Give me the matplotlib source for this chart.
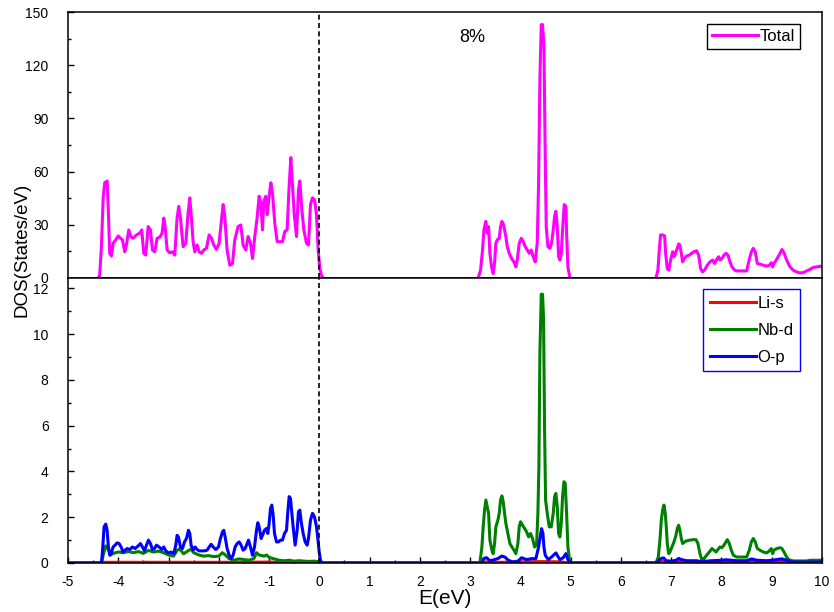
import numpy as np
import matplotlib
matplotlib.use("Agg")
import matplotlib.pyplot as plt
from matplotlib.ticker import MultipleLocator

plt.rcParams['font.family'] = ['Liberation Sans', 'DejaVu Sans']
plt.rcParams['axes.unicode_minus'] = False

# ---- Total DOS (upper panel), three bands ----
e_tot_vb = [-4.40, -4.37, -4.335, -4.30, -4.27, -4.22, -4.196, -4.17, -4.136, -4.103, -4.05, -4.00,
            -3.957, -3.917, -3.871, -3.838, -3.791, -3.751, -3.705, -3.639, -3.572, -3.532, -3.493,
            -3.453, -3.406, -3.36, -3.32, -3.274, -3.227, -3.174, -3.128, -3.095, -3.068, -3.028,
            -2.975, -2.922, -2.876, -2.83, -2.796, -2.763, -2.71, -2.657, -2.611, -2.577, -2.544,
            -2.511, -2.478, -2.431, -2.392, -2.345, -2.299, -2.246, -2.193, -2.146, -2.10, -2.047,
            -1.994, -1.947, -1.914, -1.881, -1.835, -1.781, -1.728, -1.682, -1.616, -1.562, -1.516,
            -1.463, -1.417, -1.37, -1.33, -1.284, -1.238, -1.198, -1.164, -1.131, -1.104, -1.065,
            -1.038, -0.998, -0.965, -0.932, -0.886, -0.839, -0.786, -0.733, -0.687, -0.64, -0.601,
            -0.567, -0.541, -0.501, -0.454, -0.415, -0.388, -0.348, -0.308, -0.255, -0.216, -0.176,
            -0.136, -0.096, -0.056, -0.023, 0.01, 0.043, 0.076]
tot_vb = [0, 1.5, 17.7, 45.2, 53.7, 54.7, 36.6, 13.9, 12.4, 19.6, 21.5, 23.7,
          22.4, 21.5, 14.8, 18.6, 27.1, 23.4, 22.4, 24.3, 25.3, 27.1, 13.9,
          12.9, 29.0, 27.1, 15.8, 14.8, 22.4, 23.0, 25.3, 33.8, 29.0, 15.8,
          14.2, 14.8, 12.9, 33.8, 40.4, 33.8, 17.7, 19.6, 36.6, 45.2, 33.8,
          20.5, 14.8, 18.6, 14.8, 13.9, 15.8, 16.7, 24.3, 22.4, 18.6, 16.1,
          19.6, 32.8, 41.4, 34.7, 15.8, 7.2, 8.2, 21.5, 29.0, 29.9, 18.6,
          15.8, 23.4, 19.6, 11.0, 23.4, 33.8, 46.1, 42.3, 27.1, 43.3, 46.1,
          35.7, 46.1, 53.7, 48.0, 30.9, 20.5, 20.5, 20.5, 26.2, 27.1, 51.8,
          67.9, 55.6, 36.6, 23.4, 49.9, 54.7, 38.5, 27.1, 19.6, 18.6, 41.4,
          45.2, 44.2, 35.7, 15.8, 5.3, 1.5, 0]

e_tot_cb1 = [3.161, 3.207, 3.247, 3.274, 3.313, 3.340, 3.367, 3.393, 3.426, 3.459, 3.486, 3.512,
             3.539, 3.579, 3.605, 3.632, 3.658, 3.685, 3.711, 3.738, 3.778, 3.824, 3.871, 3.910,
             3.937, 3.977, 4.017, 4.056, 4.096, 4.136, 4.176, 4.215, 4.255, 4.295, 4.335, 4.362,
             4.388, 4.415, 4.441, 4.468, 4.494, 4.514, 4.547, 4.587, 4.620, 4.653, 4.680, 4.706,
             4.733, 4.760, 4.786, 4.813, 4.839, 4.872, 4.905, 4.919, 4.945, 4.985]
tot_cb1 = [0, 4.4, 15.8, 27.1, 31.9, 25.3, 29.0, 13.9, 6.3, 2.5, 8.2, 19.6,
           21.5, 22.4, 29.0, 31.9, 30.6, 27.1, 23.4, 17.7, 13.9, 11.0, 9.1, 6.3,
           10.1, 19.6, 22.4, 20.5, 17.7, 15.8, 13.9, 15.8, 12.0, 9.1, 19.6, 53.7,
           112.3, 142.9, 142.9, 130.5, 68.9, 29.0, 17.7, 16.7, 19.6, 27.1, 34.7, 37.6,
           29.0, 12.0, 10.1, 13.9, 27.1, 41.4, 40.5, 25.3, 6.3, 0]

e_tot_cb2 = [6.697, 6.736, 6.763, 6.789, 6.829, 6.869, 6.889, 6.922, 6.955, 6.988, 7.028, 7.061,
             7.095, 7.121, 7.148, 7.174, 7.201, 7.227, 7.260, 7.307, 7.360, 7.406, 7.453, 7.506,
             7.546, 7.585, 7.625, 7.672, 7.718, 7.771, 7.824, 7.864, 7.904, 7.944, 7.970, 8.010,
             8.050, 8.090, 8.129, 8.169, 8.209, 8.262, 8.302, 8.368, 8.434, 8.501, 8.554, 8.594,
             8.633, 8.673, 8.713, 8.766, 8.832, 8.899, 8.952, 8.992, 9.018, 9.045, 9.098, 9.164,
             9.204, 9.244, 9.297, 9.363, 9.429, 9.496, 9.562, 9.628, 9.695, 9.761, 9.827, 9.907,
             9.960, 10.01]
tot_cb2 = [0, 4.4, 15.8, 24.3, 24.3, 23.7, 13.9, 5.3, 4.4, 10.1, 14.8, 12.0,
           14.8, 16.7, 19.2, 18.6, 13.9, 9.1, 11.0, 12.4, 12.9, 13.9, 14.8, 15.4,
           12.9, 5.3, 3.4, 4.8, 7.2, 9.1, 10.1, 8.2, 10.5, 12.0, 10.1, 11.0,
           12.9, 13.9, 12.9, 9.1, 6.3, 4.4, 4.0, 4.0, 4.0, 4.0, 10.5, 14.8,
           16.7, 14.8, 8.2, 7.8, 7.2, 6.7, 7.2, 8.6, 6.3, 8.2, 10.5, 13.9,
           16.1, 14.2, 10.1, 6.3, 4.4, 3.4, 2.9, 3.0, 4.0, 4.8, 6.0, 6.3,
           6.7, 6.0]

# ---- PDOS (lower panel) ----
e_li = [-5.0, -4.35, -4.30, -3.0, -2.0, -1.0, -0.5, 0.0, 0.05, 3.20, 3.30, 3.60, 4.00, 4.40,
        4.80, 4.98, 6.70, 6.80, 7.20, 7.50, 8.00, 8.60, 9.20, 9.40, 10.0]
li_s = [0, 0, 0.03, 0.03, 0.03, 0.04, 0.02, 0.02, 0, 0, 0.05, 0.03, 0.05, 0.06,
        0.05, 0, 0, 0.06, 0.06, 0.05, 0.03, 0.06, 0.06, 0.02, 0.02]

e_nb = [-5.0, -4.33, -4.30, -4.25, -4.20, -4.15, -4.10, -4.0, -3.9, -3.8, -3.7, -3.6, -3.5, -3.4,
        -3.3, -3.2, -3.1, -3.0, -2.9, -2.83, -2.78, -2.7, -2.6, -2.55, -2.5, -2.4, -2.3, -2.2,
        -2.1, -2.0, -1.93, -1.87, -1.8, -1.7, -1.6, -1.5, -1.4, -1.3, -1.25, -1.2, -1.1, -1.05,
        -1.0, -0.9, -0.8, -0.7, -0.6, -0.5, -0.4, -0.3, -0.2, -0.1, 0.0, 0.05,
        3.194, 3.234, 3.260, 3.287, 3.313, 3.340, 3.367, 3.393, 3.433, 3.459, 3.486, 3.512,
        3.552, 3.579, 3.605, 3.632, 3.658, 3.685, 3.711, 3.751, 3.791, 3.831, 3.871, 3.910,
        3.950, 3.977, 4.003, 4.043, 4.083, 4.123, 4.163, 4.202, 4.242, 4.282, 4.322, 4.348,
        4.368, 4.388, 4.415, 4.441, 4.461, 4.481, 4.501, 4.534, 4.574, 4.614, 4.653, 4.680,
        4.706, 4.733, 4.760, 4.786, 4.813, 4.839, 4.866, 4.892, 4.919, 4.945, 4.985,
        6.697, 6.743, 6.776, 6.803, 6.829, 6.856, 6.882, 6.902, 6.922, 6.949, 6.975, 7.015,
        7.055, 7.095, 7.121, 7.148, 7.174, 7.201, 7.227, 7.267, 7.307, 7.373, 7.439, 7.493,
        7.532, 7.572, 7.612, 7.652, 7.705, 7.758, 7.811, 7.851, 7.891, 7.930, 7.970, 8.010,
        8.050, 8.090, 8.116, 8.156, 8.196, 8.236, 8.302, 8.368, 8.434, 8.501, 8.554, 8.594,
        8.633, 8.673, 8.713, 8.766, 8.832, 8.899, 8.952, 8.992, 9.018, 9.045, 9.098, 9.164,
        9.204, 9.244, 9.297, 9.337, 9.376, 9.429, 9.562, 9.695, 9.761, 9.894, 10.01]
nb_d = [0, 0, 0.35, 0.75, 0.6, 0.35, 0.42, 0.48, 0.45, 0.5, 0.45, 0.5, 0.42, 0.55,
        0.48, 0.52, 0.45, 0.35, 0.3, 0.55, 0.62, 0.4, 0.55, 0.6, 0.45, 0.35, 0.3, 0.32,
        0.28, 0.3, 0.45, 0.35, 0.2, 0.12, 0.18, 0.15, 0.12, 0.2, 0.45, 0.35, 0.3, 0.35,
        0.25, 0.18, 0.12, 0.1, 0.12, 0.08, 0.1, 0.08, 0.07, 0.08, 0.05, 0,
        0, 0.70, 1.58, 2.31, 2.75, 2.46, 2.17, 1.00, 0.56, 0.41, 0.85, 1.58,
        1.87, 2.17, 2.75, 2.93, 2.68, 2.17, 1.73, 1.29, 0.85, 0.70, 0.56, 0.41,
        0.85, 1.58, 1.80, 1.65, 1.51, 1.36, 1.14, 1.29, 1.07, 0.70, 0.78, 2.17,
        4.21, 9.18, 11.74, 11.74, 10.65, 5.82, 2.75, 2.17, 1.58, 1.58, 2.17, 2.90,
        3.04, 2.46, 1.29, 1.14, 1.73, 2.90, 3.55, 3.48, 2.17, 0.70, 0,
        0, 0.26, 1.00, 1.87, 2.31, 2.53, 2.17, 1.58, 0.85, 0.41, 0.48, 0.70,
        0.92, 1.21, 1.51, 1.65, 1.43, 1.07, 0.85, 0.92, 0.97, 1.00, 1.02, 1.02,
        0.85, 0.41, 0.12, 0.19, 0.34, 0.48, 0.63, 0.56, 0.48, 0.59, 0.70, 0.67,
        0.78, 0.92, 1.02, 0.85, 0.56, 0.34, 0.26, 0.26, 0.26, 0.26, 0.56, 0.92,
        1.07, 0.92, 0.63, 0.56, 0.48, 0.44, 0.53, 0.63, 0.41, 0.56, 0.63, 0.67,
        0.63, 0.48, 0.26, 0.15, 0.12, 0.09, 0.09, 0.09, 0.12, 0.12, 0.12]

e_op = [-5.0, -4.40, -4.335, -4.315, -4.282, -4.249, -4.222, -4.196, -4.169, -4.136, -4.103,
        -4.063, -4.023, -3.983, -3.944, -3.904, -3.864, -3.824, -3.771, -3.718, -3.665, -3.612,
        -3.559, -3.519, -3.479, -3.439, -3.400, -3.360, -3.320, -3.280, -3.240, -3.187, -3.134,
        -3.095, -3.055, -3.002, -2.949, -2.896, -2.856, -2.830, -2.803, -2.763, -2.723, -2.683,
        -2.643, -2.604, -2.577, -2.551, -2.511, -2.471, -2.431, -2.391, -2.338, -2.285, -2.232,
        -2.192, -2.152, -2.113, -2.060, -2.007, -1.967, -1.927, -1.901, -1.874, -1.834, -1.794,
        -1.755, -1.715, -1.675, -1.635, -1.595, -1.556, -1.516, -1.476, -1.436, -1.409, -1.370,
        -1.330, -1.290, -1.250, -1.224, -1.197, -1.158, -1.131, -1.091, -1.051, -1.025, -0.998,
        -0.972, -0.945, -0.919, -0.892, -0.852, -0.813, -0.773, -0.733, -0.693, -0.653, -0.627,
        -0.600, -0.574, -0.547, -0.521, -0.481, -0.441, -0.415, -0.388, -0.361, -0.322, -0.282,
        -0.242, -0.216, -0.176, -0.136, -0.096, -0.056, -0.030, -0.003, 0.023, 0.050,
        3.227, 3.274, 3.327, 3.393, 3.459, 3.559, 3.625, 3.692, 3.758, 3.857, 3.957, 4.023,
        4.123, 4.222, 4.308, 4.362, 4.395, 4.421, 4.448, 4.468, 4.494, 4.554, 4.620, 4.706,
        4.753, 4.786, 4.852, 4.905, 4.945, 4.985,
        6.70, 6.75, 6.80, 6.85, 6.90, 7.00, 7.10, 7.15, 7.20, 7.30, 7.50, 7.60, 7.80, 8.00,
        8.10, 8.30, 8.50, 8.60, 8.70, 8.90, 9.00, 9.20, 9.30, 9.40, 9.60, 10.0]
o_p = [0, 0, 0.0, 0.48, 1.58, 1.70, 1.43, 0.70, 0.34, 0.44, 0.70,
       0.78, 0.88, 0.85, 0.70, 0.48, 0.56, 0.63, 0.59, 0.70, 0.63, 0.73,
       0.85, 0.70, 0.53, 0.78, 1.00, 0.85, 0.59, 0.63, 0.78, 0.70, 0.59,
       0.70, 0.53, 0.44, 0.48, 0.41, 0.78, 1.21, 1.14, 0.70, 0.63, 0.92,
       1.07, 1.43, 1.29, 0.78, 0.56, 0.70, 0.59, 0.53, 0.53, 0.53, 0.56,
       0.70, 0.82, 0.70, 0.59, 0.70, 1.07, 1.36, 1.43, 1.14, 0.63, 0.34,
       0.19, 0.34, 0.70, 0.85, 0.92, 0.78, 0.56, 0.63, 0.85, 1.00, 0.70,
       0.34, 0.70, 1.43, 1.76, 1.58, 1.07, 1.21, 1.43, 1.51, 1.29, 1.73,
       2.38, 2.53, 2.09, 1.29, 0.92, 0.92, 1.00, 1.00, 1.29, 1.43, 2.24,
       2.90, 2.82, 2.17, 1.58, 0.78, 1.43, 2.24, 2.31, 1.80, 1.29, 0.92,
       0.78, 1.07, 1.87, 2.17, 2.02, 1.58, 1.07, 0.48, 0.12, 0,
       0, 0.20, 0.23, 0.10, 0.13, 0.20, 0.30, 0.26, 0.12, 0.04, 0.09, 0.23,
       0.15, 0.19, 0.19, 0.70, 1.14, 1.50, 1.30, 0.70, 0.34, 0.15, 0.26, 0.44,
       0.26, 0.15, 0.23, 0.41, 0.15, 0,
       0, 0.10, 0.20, 0.22, 0.10, 0.08, 0.12, 0.20, 0.15, 0.10, 0.10, 0.06, 0.10, 0.12,
       0.14, 0.10, 0.10, 0.18, 0.12, 0.10, 0.12, 0.18, 0.12, 0.05, 0.04, 0.05]

fig = plt.figure(figsize=(8.34, 6.12), dpi=100)
ax1 = fig.add_axes([68/834, 1-278/612, 754/834, 266/612])
ax2 = fig.add_axes([68/834, 1-563/612, 754/834, 285/612])

lw = 2.2
ax1.plot(e_tot_vb, tot_vb, color='#ff00ff', lw=lw, label='Total')
ax1.plot(e_tot_cb1, tot_cb1, color='#ff00ff', lw=lw)
ax1.plot(e_tot_cb2, tot_cb2, color='#ff00ff', lw=lw)

ax2.plot(e_li, li_s, color='#ff0000', lw=lw, label='Li-s')
ax2.plot(e_nb, nb_d, color='#008000', lw=lw, label='Nb-d')
ax2.plot(e_op, o_p, color='#0000ff', lw=lw, label='O-p')

for ax in (ax1, ax2):
    ax.set_xlim(-5, 10)
    ax.axvline(0, color='black', lw=1.2, ls=(0, (3, 2)), zorder=3)
    for s in ax.spines.values():
        s.set_linewidth(1.1)
    ax.tick_params(which='both', direction='in', labelsize=10)
    ax.tick_params(which='major', length=4, width=1)
    ax.tick_params(which='minor', length=2, width=1)
    ax.tick_params(axis='y', pad=14)

ax1.set_ylim(0, 150)
ax1.yaxis.set_major_locator(MultipleLocator(30))
ax1.yaxis.set_minor_locator(MultipleLocator(15))
ax1.set_xticks([])
ax1.text(3.05, 135.5, '8%', fontsize=13, ha='center', va='center')

ax2.set_ylim(0, 12.45)
ax2.yaxis.set_major_locator(MultipleLocator(2))
ax2.yaxis.set_minor_locator(MultipleLocator(1))
ax2.xaxis.set_major_locator(MultipleLocator(1))
ax2.xaxis.set_minor_locator(MultipleLocator(0.5))
ax2.tick_params(axis='x', pad=9)

leg_kw = dict(loc='upper right', fontsize=12, handlelength=2.75, handletextpad=0.1,
              borderaxespad=0, fancybox=False, framealpha=1)
l1 = ax1.legend(bbox_to_anchor=(0.971, 0.955), borderpad=0.3, **leg_kw)
l1.get_frame().set_edgecolor('black')
l1.get_frame().set_linewidth(1.0)
l2 = ax2.legend(bbox_to_anchor=(0.971, 0.961), borderpad=0.4, labelspacing=0.72, **leg_kw)
l2.get_frame().set_edgecolor('#0000ff')
l2.get_frame().set_linewidth(1.0)

fig.text(22/834, 1-250/612, 'DOS(States/eV)', rotation=90, fontsize=13.5, ha='center', va='center')
fig.text(445/834, 1-599/612, 'E(eV)', fontsize=15, ha='center', va='center')

fig.savefig('out.png', dpi=100)
